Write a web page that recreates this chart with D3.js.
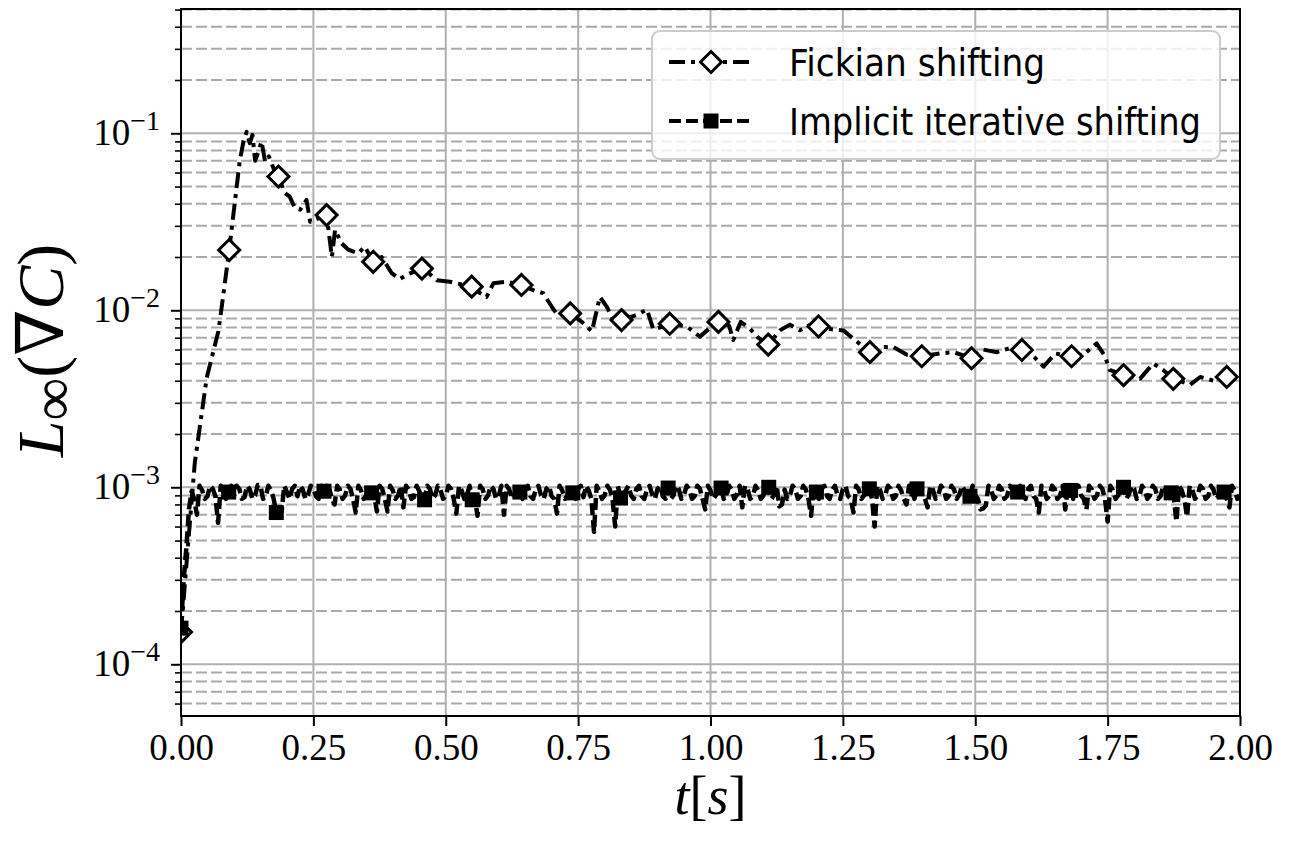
<!DOCTYPE html>
<html>
<head>
<meta charset="utf-8">
<script src="https://cdn.jsdelivr.net/npm/d3@7"></script>
<style>
  body { margin: 0; background: #fff; }
</style>
</head>
<body>
<div id="chart-area"></div>
<script>
// ---- data ----
const xTicks = [0, 0.25, 0.5, 0.75, 1, 1.25, 1.5, 1.75, 2];
const yMajor = [1e-4, 1e-3, 1e-2, 1e-1];
const yExp = ["\u22124", "\u22123", "\u22122", "\u22121"];
const seriesNames = ["Fickian shifting", "Implicit iterative shifting"];

// [t, L_inf]
const fickian = [
  [0, 1.52e-4], [0.011, 3.9e-4], [0.026, 1.37e-3], [0.0485, 4.15e-3], [0.0705, 7.6e-3],
  [0.077, 1.05e-2], [0.091, 2.19e-2], [0.111, 7.0e-2], [0.118, 9.0e-2], [0.124, 1.02e-1],
  [0.130, 8.8e-2], [0.135, 9.8e-2], [0.140, 7.0e-2], [0.147, 8.0e-2], [0.152, 9.0e-2],
  [0.159, 6.9e-2], [0.166, 7.4e-2], [0.176, 6.2e-2], [0.184, 5.7e-2], [0.196, 4.6e-2],
  [0.205, 4.4e-2], [0.215, 3.8e-2], [0.225, 3.7e-2], [0.237, 4.2e-2], [0.244, 3.16e-2],
  [0.258, 3.3e-2], [0.275, 3.45e-2], [0.285, 2.0e-2], [0.291, 2.85e-2], [0.303, 2.39e-2],
  [0.316, 2.2e-2], [0.335, 2.1e-2], [0.347, 2.29e-2], [0.363, 1.88e-2], [0.379, 2.0e-2],
  [0.398, 1.62e-2], [0.413, 1.5e-2], [0.429, 1.6e-2], [0.455, 1.72e-2], [0.470, 1.6e-2],
  [0.483, 1.48e-2], [0.508, 1.45e-2], [0.530, 1.4e-2], [0.549, 1.36e-2], [0.565, 1.25e-2],
  [0.577, 1.19e-2], [0.590, 1.42e-2], [0.615, 1.45e-2], [0.643, 1.39e-2], [0.665, 1.30e-2],
  [0.684, 1.25e-2], [0.700, 1.05e-2], [0.709, 9.6e-3], [0.735, 9.6e-3], [0.757, 8.6e-3],
  [0.776, 7.6e-3], [0.791, 1.19e-2], [0.804, 1.05e-2], [0.815, 9.0e-3], [0.832, 8.8e-3],
  [0.860, 9.4e-3], [0.880, 1.01e-2], [0.892, 7.8e-3], [0.905, 8.0e-3], [0.923, 8.4e-3],
  [0.955, 8.1e-3], [0.980, 7.1e-3], [1.000, 8.0e-3], [1.015, 8.6e-3], [1.035, 8.2e-3],
  [1.043, 6.8e-3], [1.057, 8.6e-3], [1.074, 7.9e-3], [1.090, 7.0e-3], [1.109, 6.4e-3],
  [1.131, 7.7e-3], [1.150, 8.3e-3], [1.169, 7.7e-3], [1.185, 8.2e-3], [1.204, 8.1e-3],
  [1.230, 7.8e-3], [1.251, 7.7e-3], [1.270, 6.9e-3], [1.301, 5.8e-3], [1.320, 6.2e-3],
  [1.345, 6.2e-3], [1.371, 5.6e-3], [1.399, 5.5e-3], [1.433, 5.7e-3], [1.459, 5.8e-3],
  [1.493, 5.36e-3], [1.515, 6.0e-3], [1.541, 5.8e-3], [1.572, 6.2e-3], [1.588, 5.97e-3],
  [1.610, 5.5e-3], [1.629, 4.8e-3], [1.651, 5.7e-3], [1.682, 5.5e-3], [1.704, 5.6e-3],
  [1.729, 6.5e-3], [1.745, 5.5e-3], [1.754, 4.6e-3], [1.780, 4.3e-3], [1.811, 4.1e-3],
  [1.836, 5.0e-3], [1.855, 4.6e-3], [1.874, 4.1e-3], [1.906, 3.8e-3], [1.925, 4.2e-3],
  [1.950, 4.0e-3], [1.975, 4.2e-3], [2.0, 3.9e-3]
];
const fickianMarkT = [0, 0.091, 0.184, 0.275, 0.363, 0.455, 0.549, 0.643, 0.735, 0.832, 0.923,
  1.015, 1.109, 1.204, 1.301, 1.399, 1.493, 1.588, 1.682, 1.780, 1.874, 1.975];

const implicit = [
  [0, 1.6e-4], [0.005, 3.0e-4], [0.01, 4.5e-4], [0.015, 7.5e-4], [0.02, 9.5e-4], [0.025, 8.6e-4], [0.03, 7.0e-4], [0.035, 1.02e-3], [0.04, 9.6e-4], [0.045, 8.6e-4],
  [0.05, 8.9e-4], [0.055, 1.02e-3], [0.06, 9.8e-4], [0.065, 8.9e-4], [0.07, 6.3e-4], [0.075, 1.02e-3], [0.08, 9.7e-4], [0.085, 8.6e-4], [0.09, 9.4e-4], [0.095, 1.02e-3],
  [0.10, 9.0e-4], [0.105, 1.02e-3], [0.11, 9.8e-4], [0.115, 8.6e-4], [0.12, 8.8e-4], [0.125, 1.02e-3], [0.13, 9.7e-4], [0.135, 8.6e-4], [0.14, 9.0e-4], [0.145, 1.03e-3],
  [0.15, 1.02e-3], [0.155, 8.6e-4], [0.16, 8.9e-4], [0.165, 1.02e-3], [0.17, 9.6e-4], [0.175, 8.6e-4], [0.18, 7.2e-4], [0.185, 7.2e-4], [0.19, 7.3e-4], [0.195, 1.02e-3],
  [0.20, 9.4e-4], [0.205, 8.6e-4], [0.21, 9.8e-4], [0.215, 1.02e-3], [0.22, 8.9e-4], [0.225, 1.02e-3], [0.23, 9.7e-4], [0.235, 8.6e-4], [0.24, 9.1e-4], [0.245, 1.02e-3],
  [0.25, 9.8e-4], [0.255, 8.9e-4], [0.26, 8.6e-4], [0.265, 1.02e-3], [0.27, 9.5e-4], [0.275, 1.02e-3], [0.28, 9.8e-4], [0.285, 8.6e-4], [0.29, 8.0e-4], [0.295, 1.02e-3],
  [0.30, 9.7e-4], [0.305, 8.6e-4], [0.31, 9.0e-4], [0.315, 1.02e-3], [0.32, 9.8e-4], [0.325, 8.6e-4], [0.33, 7.2e-4], [0.335, 1.02e-3], [0.34, 9.6e-4], [0.345, 8.6e-4],
  [0.35, 9.0e-4], [0.355, 1.02e-3], [0.36, 9.3e-4], [0.365, 8.9e-4], [0.37, 7.3e-4], [0.375, 1.02e-3], [0.38, 9.8e-4], [0.385, 8.6e-4], [0.39, 7.3e-4], [0.395, 1.02e-3],
  [0.40, 9.6e-4], [0.405, 8.6e-4], [0.41, 9.0e-4], [0.415, 1.02e-3], [0.42, 7.7e-4], [0.425, 1.02e-3], [0.43, 9.7e-4], [0.435, 8.6e-4], [0.44, 8.8e-4], [0.445, 1.02e-3],
  [0.45, 9.5e-4], [0.455, 8.6e-4], [0.46, 8.5e-4], [0.465, 1.02e-3], [0.47, 9.8e-4], [0.475, 8.6e-4], [0.48, 9.0e-4], [0.485, 1.02e-3], [0.49, 9.7e-4], [0.495, 8.6e-4],
  [0.50, 8.9e-4], [0.505, 1.02e-3], [0.51, 9.8e-4], [0.515, 8.6e-4], [0.52, 7.1e-4], [0.525, 1.02e-3], [0.53, 9.6e-4], [0.535, 8.6e-4], [0.54, 9.0e-4], [0.545, 1.02e-3],
  [0.55, 8.5e-4], [0.555, 8.6e-4], [0.56, 6.9e-4], [0.565, 1.02e-3], [0.57, 9.7e-4], [0.575, 8.6e-4], [0.58, 9.0e-4], [0.585, 1.02e-3], [0.59, 9.8e-4], [0.595, 8.6e-4],
  [0.60, 8.9e-4], [0.605, 1.02e-3], [0.61, 7.0e-4], [0.615, 1.02e-3], [0.62, 9.7e-4], [0.625, 8.6e-4], [0.63, 9.1e-4], [0.635, 1.02e-3], [0.64, 9.4e-4], [0.645, 8.6e-4],
  [0.65, 9.8e-4], [0.655, 1.02e-3], [0.66, 8.9e-4], [0.665, 8.6e-4], [0.67, 9.7e-4], [0.675, 1.02e-3], [0.68, 9.0e-4], [0.685, 8.6e-4], [0.69, 9.8e-4], [0.695, 1.02e-3],
  [0.70, 8.9e-4], [0.705, 8.6e-4], [0.71, 7.1e-4], [0.715, 1.02e-3], [0.72, 9.6e-4], [0.725, 8.6e-4], [0.73, 9.0e-4], [0.735, 1.02e-3], [0.74, 9.3e-4], [0.745, 8.6e-4],
  [0.75, 9.8e-4], [0.755, 1.02e-3], [0.76, 8.8e-4], [0.765, 1.02e-3], [0.77, 9.6e-4], [0.775, 8.6e-4], [0.78, 5.6e-4], [0.785, 1.02e-3], [0.79, 9.5e-4], [0.795, 8.6e-4],
  [0.80, 9.0e-4], [0.805, 1.02e-3], [0.81, 9.7e-4], [0.815, 8.6e-4], [0.82, 6.0e-4], [0.825, 1.02e-3], [0.83, 8.7e-4], [0.835, 8.6e-4], [0.84, 9.6e-4], [0.845, 1.02e-3],
  [0.85, 9.0e-4], [0.855, 8.6e-4], [0.86, 9.8e-4], [0.865, 1.02e-3], [0.87, 8.9e-4], [0.875, 8.6e-4], [0.88, 9.7e-4], [0.885, 1.02e-3], [0.89, 9.1e-4], [0.895, 8.6e-4],
  [0.90, 9.8e-4], [0.905, 1.02e-3], [0.91, 8.9e-4], [0.915, 8.6e-4], [0.92, 9.9e-4], [0.925, 8.6e-4], [0.93, 9.0e-4], [0.935, 1.02e-3], [0.94, 9.8e-4], [0.945, 8.6e-4],
  [0.95, 9.1e-4], [0.955, 1.02e-3], [0.96, 9.7e-4], [0.965, 8.6e-4], [0.97, 8.9e-4], [0.975, 1.02e-3], [0.98, 9.8e-4], [0.985, 8.6e-4], [0.99, 7.5e-4], [0.995, 1.02e-3],
  [1.00, 9.6e-4], [1.005, 8.6e-4], [1.01, 9.0e-4], [1.015, 1.02e-3], [1.02, 9.9e-4], [1.025, 8.6e-4], [1.03, 8.9e-4], [1.035, 1.02e-3], [1.04, 9.7e-4], [1.045, 8.6e-4],
  [1.05, 9.1e-4], [1.055, 1.02e-3], [1.06, 7.7e-4], [1.065, 1.02e-3], [1.07, 9.8e-4], [1.075, 8.6e-4], [1.08, 8.9e-4], [1.085, 1.02e-3], [1.09, 9.6e-4], [1.095, 8.6e-4],
  [1.10, 9.0e-4], [1.105, 1.02e-3], [1.11, 1.0e-3], [1.115, 8.6e-4], [1.12, 9.0e-4], [1.125, 1.02e-3], [1.13, 7.8e-4], [1.135, 8.0e-4], [1.14, 9.7e-4], [1.145, 8.6e-4],
  [1.15, 9.0e-4], [1.155, 1.02e-3], [1.16, 9.8e-4], [1.165, 8.6e-4], [1.17, 8.9e-4], [1.175, 1.02e-3], [1.18, 9.7e-4], [1.185, 8.6e-4], [1.19, 6.9e-4], [1.195, 1.02e-3],
  [1.20, 9.4e-4], [1.205, 8.6e-4], [1.21, 9.8e-4], [1.215, 1.02e-3], [1.22, 8.9e-4], [1.225, 8.6e-4], [1.23, 9.7e-4], [1.235, 1.02e-3], [1.24, 9.0e-4], [1.245, 8.6e-4],
  [1.25, 9.8e-4], [1.255, 1.02e-3], [1.26, 8.9e-4], [1.265, 8.6e-4], [1.27, 7.2e-4], [1.275, 1.02e-3], [1.28, 9.7e-4], [1.285, 8.6e-4], [1.29, 9.0e-4], [1.295, 1.02e-3],
  [1.30, 9.8e-4], [1.305, 8.6e-4], [1.31, 6.0e-4], [1.315, 1.02e-3], [1.32, 9.7e-4], [1.325, 8.6e-4], [1.33, 9.0e-4], [1.335, 1.02e-3], [1.34, 9.8e-4], [1.345, 8.6e-4],
  [1.35, 8.9e-4], [1.355, 1.02e-3], [1.36, 9.6e-4], [1.365, 8.6e-4], [1.37, 8.0e-4], [1.375, 1.02e-3], [1.38, 9.7e-4], [1.385, 8.6e-4], [1.39, 9.8e-4], [1.395, 1.02e-3],
  [1.40, 9.0e-4], [1.405, 8.6e-4], [1.41, 7.7e-4], [1.415, 1.02e-3], [1.42, 9.7e-4], [1.425, 8.6e-4], [1.43, 9.0e-4], [1.435, 1.02e-3], [1.44, 9.8e-4], [1.445, 8.6e-4],
  [1.45, 8.9e-4], [1.455, 1.02e-3], [1.46, 9.7e-4], [1.465, 8.6e-4], [1.47, 9.1e-4], [1.475, 1.02e-3], [1.48, 9.6e-4], [1.485, 8.6e-4], [1.49, 8.9e-4], [1.495, 1.02e-3],
  [1.50, 9.0e-4], [1.505, 8.6e-4], [1.51, 7.5e-4], [1.515, 7.6e-4], [1.52, 7.9e-4], [1.525, 1.02e-3], [1.53, 9.7e-4], [1.535, 8.6e-4], [1.54, 9.0e-4], [1.545, 1.02e-3],
  [1.55, 9.8e-4], [1.555, 8.6e-4], [1.56, 8.9e-4], [1.565, 1.02e-3], [1.57, 9.7e-4], [1.575, 8.6e-4], [1.58, 9.4e-4], [1.585, 1.02e-3], [1.59, 9.0e-4], [1.595, 8.6e-4],
  [1.60, 9.8e-4], [1.605, 1.02e-3], [1.61, 8.9e-4], [1.615, 8.6e-4], [1.62, 7.2e-4], [1.625, 1.02e-3], [1.63, 9.7e-4], [1.635, 8.6e-4], [1.64, 9.0e-4], [1.645, 1.02e-3],
  [1.65, 9.8e-4], [1.655, 8.6e-4], [1.66, 8.9e-4], [1.665, 1.02e-3], [1.67, 7.5e-4], [1.675, 1.02e-3], [1.68, 9.6e-4], [1.685, 8.6e-4], [1.69, 9.8e-4], [1.695, 1.02e-3],
  [1.70, 9.0e-4], [1.705, 8.6e-4], [1.71, 7.5e-4], [1.715, 1.02e-3], [1.72, 9.7e-4], [1.725, 8.6e-4], [1.73, 9.0e-4], [1.735, 1.02e-3], [1.74, 9.8e-4], [1.745, 8.6e-4],
  [1.75, 6.4e-4], [1.755, 1.02e-3], [1.76, 9.6e-4], [1.765, 8.6e-4], [1.77, 9.0e-4], [1.775, 1.02e-3], [1.78, 1.0e-3], [1.785, 8.6e-4], [1.79, 9.1e-4], [1.795, 1.02e-3],
  [1.80, 9.8e-4], [1.805, 8.6e-4], [1.81, 8.9e-4], [1.815, 1.02e-3], [1.82, 9.7e-4], [1.825, 8.6e-4], [1.83, 9.0e-4], [1.835, 1.02e-3], [1.84, 9.8e-4], [1.845, 8.6e-4],
  [1.85, 8.9e-4], [1.855, 1.02e-3], [1.86, 9.7e-4], [1.865, 8.6e-4], [1.87, 9.3e-4], [1.875, 8.6e-4], [1.88, 6.4e-4], [1.885, 1.02e-3], [1.89, 9.6e-4], [1.895, 8.6e-4],
  [1.90, 6.8e-4], [1.905, 1.02e-3], [1.91, 9.7e-4], [1.915, 8.6e-4], [1.92, 9.0e-4], [1.925, 1.02e-3], [1.93, 9.8e-4], [1.935, 8.6e-4], [1.94, 8.9e-4], [1.945, 1.02e-3],
  [1.95, 9.7e-4], [1.955, 8.6e-4], [1.96, 9.0e-4], [1.965, 1.02e-3], [1.97, 9.4e-4], [1.975, 8.6e-4], [1.98, 7.7e-4], [1.985, 1.02e-3], [1.99, 9.6e-4], [1.995, 8.6e-4],
  [2.00, 9.0e-4]
];
const implicitMarkT = [0, 0.09, 0.18, 0.27, 0.36, 0.46, 0.55, 0.64, 0.74, 0.83, 0.92,
  1.02, 1.11, 1.20, 1.30, 1.39, 1.49, 1.58, 1.68, 1.78, 1.87, 1.97];

// ---- layout ----
const MARGIN = { LEFT: 181, RIGHT: 49, TOP: 9, BOTTOM: 128 };
const WIDTH = 1289 - MARGIN.LEFT - MARGIN.RIGHT;
const HEIGHT = 844 - MARGIN.TOP - MARGIN.BOTTOM;
const SERIF = "'Liberation Serif', 'DejaVu Serif', serif";
const SANS = "'DejaVu Sans', sans-serif";
const LW = 4;

const svg = d3.select("#chart-area").append("svg")
  .attr("width", 1289)
  .attr("height", 844)
  .style("background", "#fff");

svg.append("defs").append("clipPath").attr("id", "plot-clip")
  .append("rect").attr("width", WIDTH).attr("height", HEIGHT);

const g = svg.append("g")
  .attr("transform", `translate(${MARGIN.LEFT}, ${MARGIN.TOP})`);

const x = d3.scaleLinear().domain([0, 2]).range([0, WIDTH]);
const y = d3.scaleLog().domain([5.103e-5, 0.5038]).range([HEIGHT, 0]);

// grid
const minorY = y.ticks().filter(v => Math.abs(Math.log10(v) - Math.round(Math.log10(v))) > 1e-6);
g.append("g").selectAll("line").data(minorY).join("line")
  .attr("x1", 0).attr("x2", WIDTH)
  .attr("y1", d => y(d)).attr("y2", d => y(d))
  .attr("stroke", "#a9a9a9").attr("stroke-width", 2)
  .attr("stroke-dasharray", "11,4");
g.append("g").selectAll("line").data(yMajor).join("line")
  .attr("x1", 0).attr("x2", WIDTH)
  .attr("y1", d => y(d)).attr("y2", d => y(d))
  .attr("stroke", "#b0b0b0").attr("stroke-width", 2);
g.append("g").selectAll("line").data(xTicks).join("line")
  .attr("x1", d => x(d)).attr("x2", d => x(d))
  .attr("y1", 0).attr("y2", HEIGHT)
  .attr("stroke", "#b0b0b0").attr("stroke-width", 2);

// series
const plot = g.append("g").attr("clip-path", "url(#plot-clip)");
const line = d3.line().x(d => x(d[0])).y(d => y(d[1]));
const diamond = "M0,-10.5L10.5,0L0,10.5L-10.5,0Z";

plot.append("path").datum(fickian)
  .attr("d", line)
  .attr("fill", "none").attr("stroke", "#000").attr("stroke-width", LW)
  .attr("stroke-dasharray", "16,6,4,6").attr("stroke-linejoin", "round");
plot.append("g").selectAll("path")
  .data(fickian.filter(d => fickianMarkT.includes(d[0])))
  .join("path")
  .attr("d", diamond)
  .attr("transform", d => `translate(${x(d[0])}, ${y(d[1])})`)
  .attr("fill", "#fff").attr("stroke", "#000").attr("stroke-width", 3);

plot.append("path").datum(implicit)
  .attr("d", line)
  .attr("fill", "none").attr("stroke", "#000").attr("stroke-width", 4.5)
  .attr("stroke-dasharray", "12,5").attr("stroke-linejoin", "round");
plot.append("g").selectAll("rect")
  .data(implicit.filter(d => implicitMarkT.includes(d[0])))
  .join("rect")
  .attr("x", d => x(d[0]) - 7.5).attr("y", d => y(d[1]) - 7.5)
  .attr("width", 15).attr("height", 15)
  .attr("fill", "#000");

// axes
const xAxisCall = d3.axisBottom(x)
  .tickValues(xTicks)
  .tickSize(10)
  .tickPadding(8)
  .tickFormat(d3.format(".2f"));
const xAxis = g.append("g")
  .attr("transform", `translate(0, ${HEIGHT})`)
  .call(xAxisCall);
xAxis.select(".domain").remove();
xAxis.selectAll("line").attr("stroke", "#000").attr("stroke-width", 2);
xAxis.selectAll("text")
  .attr("font-family", SERIF).attr("font-size", "37px").attr("fill", "#000");

const yMinorCall = d3.axisLeft(y).tickValues(minorY).tickSize(6).tickFormat("");
const yMinor = g.append("g").call(yMinorCall);
yMinor.select(".domain").remove();
yMinor.selectAll("line").attr("stroke", "#000").attr("stroke-width", 1.6);

const yAxisCall = d3.axisLeft(y).tickValues(yMajor).tickSize(10).tickPadding(11);
const yAxis = g.append("g").call(yAxisCall);
yAxis.select(".domain").remove();
yAxis.selectAll("line").attr("stroke", "#000").attr("stroke-width", 2);
yAxis.selectAll("text")
  .attr("font-family", SERIF).attr("font-size", "37px").attr("fill", "#000")
  .attr("dy", "0.3em")
  .each(function (d, i) {
    const t = d3.select(this).text("");
    t.append("tspan").text("10");
    t.append("tspan").attr("font-size", "28px").attr("dy", -15).text(yExp[i]);
  });

// spines
g.append("rect")
  .attr("width", WIDTH).attr("height", HEIGHT)
  .attr("fill", "none").attr("stroke", "#000").attr("stroke-width", 2);

// axis labels
const xl = svg.append("text")
  .attr("x", MARGIN.LEFT + WIDTH / 2).attr("y", 814)
  .attr("text-anchor", "middle")
  .attr("font-family", SERIF).attr("font-size", "54px");
xl.append("tspan").attr("font-style", "italic").text("t");
xl.append("tspan").text("[");
xl.append("tspan").attr("font-style", "italic").text("s");
xl.append("tspan").text("]");

const yl = svg.append("text")
  .attr("transform", `translate(63, ${MARGIN.TOP + HEIGHT / 2 - 12}) rotate(-90)`)
  .attr("text-anchor", "middle")
  .attr("font-family", SERIF).attr("font-size", "66px");
yl.append("tspan").attr("font-style", "italic").text("L");
yl.append("tspan").attr("font-size", "60px").attr("dy", 10).text("\u221E");
yl.append("tspan").attr("dy", -10).text("(\u2207");
yl.append("tspan").attr("font-style", "italic").text("C");
yl.append("tspan").text(")");

// legend
const legend = svg.append("g");
legend.append("rect")
  .attr("x", 652).attr("y", 31).attr("width", 568).attr("height", 128)
  .attr("rx", 8)
  .attr("fill", "#fff").attr("fill-opacity", 0.8)
  .attr("stroke", "#cccccc").attr("stroke-width", 2);

const rows = [
  { name: seriesNames[0], y: 62, dash: "16,6,4,6", width: 256 },
  { name: seriesNames[1], y: 121, dash: "12,5", width: 412 }
];
rows.forEach((r, i) => {
  legend.append("line")
    .attr("x1", 669).attr("x2", 752).attr("y1", r.y).attr("y2", r.y)
    .attr("stroke", "#000").attr("stroke-width", LW).attr("stroke-dasharray", r.dash);
  if (i === 0) {
    legend.append("path").attr("d", diamond)
      .attr("transform", `translate(711, ${r.y})`)
      .attr("fill", "#fff").attr("stroke", "#000").attr("stroke-width", 3);
  } else {
    legend.append("rect")
      .attr("x", 703.5).attr("y", r.y - 7.5).attr("width", 15).attr("height", 15)
      .attr("fill", "#000");
  }
  legend.append("text")
    .attr("x", 789).attr("y", r.y + 14)
    .attr("font-family", SANS).attr("font-size", "37px")
    .attr("textLength", r.width).attr("lengthAdjust", "spacingAndGlyphs")
    .text(r.name);
});
</script>
</body>
</html>
